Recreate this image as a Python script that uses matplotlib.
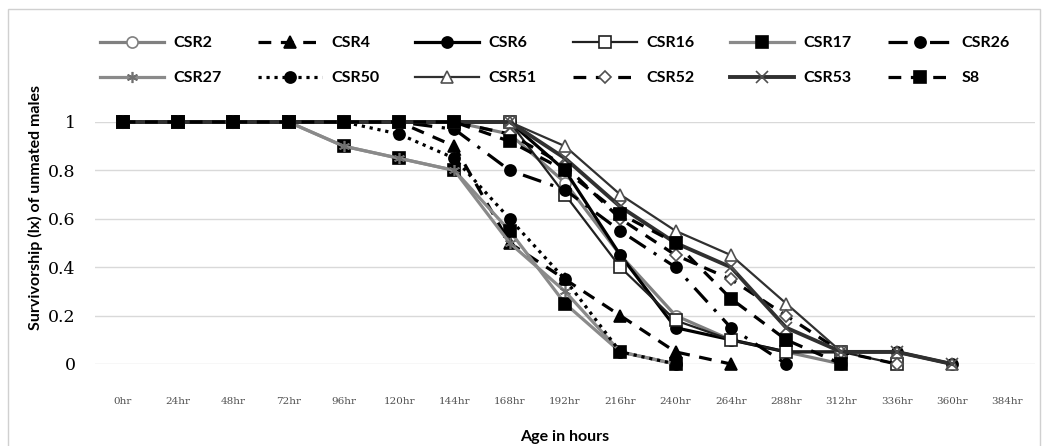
import numpy as np
import matplotlib
matplotlib.use("Agg")
import matplotlib.pyplot as plt
from matplotlib.patches import Rectangle

plt.rcParams['font.family'] = ['Lato', 'DejaVu Sans']

hours = ['0hr', '24hr', '48hr', '72hr', '96hr', '120hr', '144hr', '168hr', '192hr',
         '216hr', '240hr', '264hr', '288hr', '312hr', '336hr', '360hr', '384hr']

# survivorship values (series stop once they hit 0)
CSR2 = [1, 1, 1, 1, 1, 1, 1, 0.95, 0.75, 0.45, 0.2, 0.1, 0.05, 0]
CSR4 = [1, 1, 1, 1, 1, 1, 0.9, 0.5, 0.35, 0.2, 0.05, 0]
CSR6 = [1, 1, 1, 1, 1, 1, 1, 1, 0.8, 0.45, 0.15, 0.1, 0.05, 0.05, 0.05, 0]
CSR16 = [1, 1, 1, 1, 1, 1, 1, 1, 0.7, 0.4, 0.18, 0.1, 0.05, 0.05, 0]
CSR17 = [1, 1, 1, 1, 0.9, 0.85, 0.8, 0.55, 0.25, 0.05, 0]
CSR26 = [1, 1, 1, 1, 1, 1, 0.97, 0.8, 0.72, 0.55, 0.4, 0.15, 0]
CSR27 = [1, 1, 1, 1, 0.9, 0.85, 0.8, 0.5, 0.3, 0.05, 0]
CSR50 = [1, 1, 1, 1, 1, 0.95, 0.85, 0.6, 0.35, 0.05, 0]
CSR51 = [1, 1, 1, 1, 1, 1, 1, 1, 0.9, 0.7, 0.55, 0.45, 0.25, 0.05, 0.05, 0]
CSR52 = [1, 1, 1, 1, 1, 1, 1, 0.95, 0.82, 0.6, 0.45, 0.35, 0.2, 0.05, 0]
CSR53 = [1, 1, 1, 1, 1, 1, 1, 1, 0.85, 0.65, 0.5, 0.4, 0.15, 0.05, 0.05, 0]
S8 = [1, 1, 1, 1, 1, 1, 1, 0.92, 0.8, 0.62, 0.5, 0.27, 0.1, 0]

series = [
    ('CSR2', CSR2, dict(color='#808080', ls='-', marker='o', mfc='white', mec='#808080')),
    ('CSR4', CSR4, dict(color='black', ls=(0, (4, 3)), marker='^', mfc='black', mec='black')),
    ('CSR6', CSR6, dict(color='black', ls='-', marker='o', mfc='black', mec='black')),
    ('CSR16', CSR16, dict(color='#202020', ls='-', lw=1.6, marker='s', mfc='white', mec='#202020')),
    ('CSR17', CSR17, dict(color='#8a8a8a', ls='-', marker='s', mfc='black', mec='black')),
    ('CSR26', CSR26, dict(color='black', ls=(0, (6, 3, 1, 3)), marker='o', mfc='black', mec='black')),
    ('CSR27', CSR27, dict(color='#8a8a8a', ls='-', marker=(6, 2, 0), mfc='#707070', mec='#707070')),
    ('CSR50', CSR50, dict(color='black', ls=(0, (1, 1.5)), marker='o', mfc='black', mec='black')),
    ('CSR51', CSR51, dict(color='#303030', ls='-', lw=1.6, marker='^', mfc='white', mec='#505050')),
    ('CSR52', CSR52, dict(color='black', ls=(0, (4, 3)), marker='D', ms=6, mfc='white', mec='#505050')),
    ('CSR53', CSR53, dict(color='#303030', ls='-', lw=2.8, marker='x', mfc='#303030', mec='#505050')),
    ('S8', S8, dict(color='black', ls=(0, (4, 3)), marker='s', mfc='black', mec='black')),
]

fig = plt.figure(figsize=(10.45, 4.46), dpi=100)
ax = fig.add_axes([95 / 1045, 82 / 446, 940 / 1045, 242 / 446])

x = np.arange(len(hours))
handles = {}
for name, vals, st in series:
    y = np.full(len(hours), np.nan)
    y[:len(vals)] = vals
    kw = dict(lw=2.3, ms=8, mew=1.2)
    kw.update(st)
    ln, = ax.plot(x, y, label=name, clip_on=False, **kw)
    handles[name] = ln

ax.set_xlim(-0.5, len(hours) - 0.5)
ax.set_ylim(0, 1)
ax.set_yticks([0, 0.2, 0.4, 0.6, 0.8, 1])
ax.set_yticklabels(['0', '0.2', '0.4', '0.6', '0.8', '1'])
ax.set_xticks(x)
ax.set_xticklabels(hours)
ax.yaxis.grid(True, color='#d9d9d9', lw=1)
ax.set_axisbelow(True)
for s in ax.spines.values():
    s.set_visible(False)
ax.tick_params(axis='y', length=0, pad=14, labelsize=12.5)
ax.tick_params(axis='x', length=0, pad=24, labelsize=7.5, labelcolor='#505050')
for t in ax.get_yticklabels():
    t.set_family('DejaVu Serif')
for t in ax.get_xticklabels():
    t.set_family('DejaVu Serif')

fig.text(35 / 1045, 0.535, 'Survivorship (lx) of unmated males', rotation=90,
         ha='center', va='center', fontsize=11.5, fontweight='bold')
fig.text(565 / 1045, 9 / 446, 'Age in hours', ha='center', va='center',
         fontsize=11.5, fontweight='bold')

order = ['CSR2', 'CSR27', 'CSR4', 'CSR50', 'CSR6', 'CSR51',
         'CSR16', 'CSR52', 'CSR17', 'CSR53', 'CSR26', 'S8']
fig.legend([handles[n] for n in order], order, ncol=6, loc='upper left',
           bbox_to_anchor=(100 / 1045, 1 - 36 / 446), frameon=False,
           borderpad=0, borderaxespad=0, handlelength=4, handletextpad=0.6,
           columnspacing=2.25, labelspacing=1.3,
           prop=dict(family=['Lato', 'DejaVu Sans'], weight='bold', size=11.5))

fig.patches.append(Rectangle((8 / 1045, -0.02), 1032 / 1045, 1.0, transform=fig.transFigure,
                             fill=False, ec='#d0d0d0', lw=1))

fig.savefig('out.png', dpi=100)
